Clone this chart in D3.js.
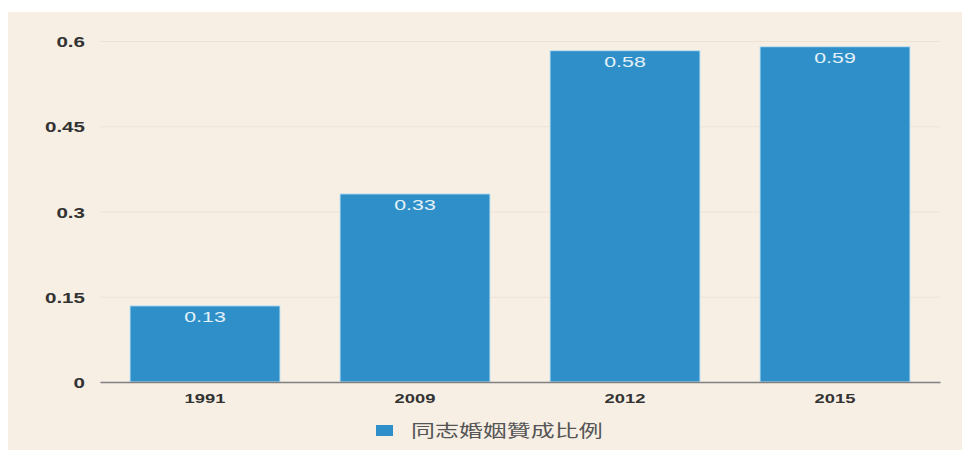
<html>
<head>
<meta charset="utf-8">
<script src="https://d3js.org/d3.v7.min.js"></script>
<style>
body{margin:0;background:#fff;}
svg{display:block;}
</style>
</head>
<body>
<div class="chart"></div>
<script>
// data
const years = ['1991', '2009', '2012', '2015'];
const support = [0.134, 0.331, 0.583, 0.59];
const valueLabels = ['0.13', '0.33', '0.58', '0.59'];
const yTicks = [0, 0.15, 0.3, 0.45, 0.6];
const yTickLabels = ['0', '0.15', '0.3', '0.45', '0.6'];
const seriesName = '同志婚姻贊成比例';

const width = 962;
const height = 452;
const margin = { top: 41, left: 100, bottom: 70, right: 22 };
const stretch = 1.47; // the source picture is squashed wide, text included
const font = 'Liberation Sans, Arial, sans-serif';

const svg = d3.select('.chart')
  .append('svg')
    .attr('width', width)
    .attr('height', height);

// cream panel
svg.append('rect')
  .attr('x', 8)
  .attr('y', 12)
  .attr('width', width - 8)
  .attr('height', 438)
  .attr('fill', '#f7efe4');

const x = d3.scaleBand()
  .domain(years)
  .range([margin.left, width - margin.right])
  .paddingInner(2/7)
  .paddingOuter(1/7);

const y = d3.scaleLinear()
  .domain([0, 0.6])
  .range([height - margin.bottom, margin.top]);

// grid + y labels
const gy = svg.append('g')
  .attr('transform', `translate(${margin.left},0)`)
  .call(d3.axisLeft(y)
    .tickValues(yTicks)
    .tickSize(-(width - margin.left - margin.right))
    .tickFormat((d, i) => yTickLabels[i]));
gy.select('.domain').remove();
gy.selectAll('.tick line')
  .attr('stroke', '#eee3d3')
  .attr('stroke-width', 1);
gy.selectAll('.tick text')
  .attr('x', 0)
  .attr('dy', 0)
  .attr('y', 0)
  .attr('transform', `translate(-15,5.5) scale(${stretch},1)`)
  .attr('fill', '#333')
  .attr('font-family', font)
  .attr('font-size', 14)
  .attr('font-weight', 'bold');

// bars
svg.append('g')
  .selectAll('rect')
  .data(years)
  .join('rect')
    .attr('x', d => x(d))
    .attr('y', (d, i) => y(support[i]))
    .attr('width', x.bandwidth())
    .attr('height', (d, i) => y(0) - y(support[i]))
    .attr('fill', '#2f90c9')
    .attr('stroke', '#c6e4f4')
    .attr('stroke-width', 1);

// value labels
svg.append('g')
  .selectAll('text')
  .data(years)
  .join('text')
    .attr('transform', (d, i) =>
      `translate(${x(d) + x.bandwidth() / 2},${y(support[i]) + 16.5}) scale(${stretch},1)`)
    .attr('text-anchor', 'middle')
    .attr('fill', '#e4f1f8')
    .attr('font-family', font)
    .attr('font-size', 14.5)
    .text((d, i) => valueLabels[i]);

// x axis
const gx = svg.append('g')
  .attr('transform', `translate(0,${y(0)})`)
  .call(d3.axisBottom(x).tickSize(0));
gx.select('.domain')
  .attr('stroke', '#808080')
  .attr('stroke-width', 1.3);
gx.selectAll('.tick text')
  .attr('y', 0)
  .attr('dy', 0)
  .attr('transform', `translate(0,21) scale(${stretch},1)`)
  .attr('fill', '#333')
  .attr('font-family', font)
  .attr('font-size', 12.5)
  .attr('font-weight', 'bold');

// legend
const legend = svg.append('g')
  .attr('transform', 'translate(376,425)');
legend.append('rect')
  .attr('width', 17)
  .attr('height', 11)
  .attr('fill', '#2f90c9');
legend.append('text')
  .attr('transform', `translate(35,5.5) scale(1.41,1)`)
  .attr('dy', '0.36em')
  .attr('fill', '#555')
  .attr('font-family', 'Noto Sans CJK TC, sans-serif')
  .attr('font-size', 17)
  .text(seriesName);
</script>
</body>
</html>
